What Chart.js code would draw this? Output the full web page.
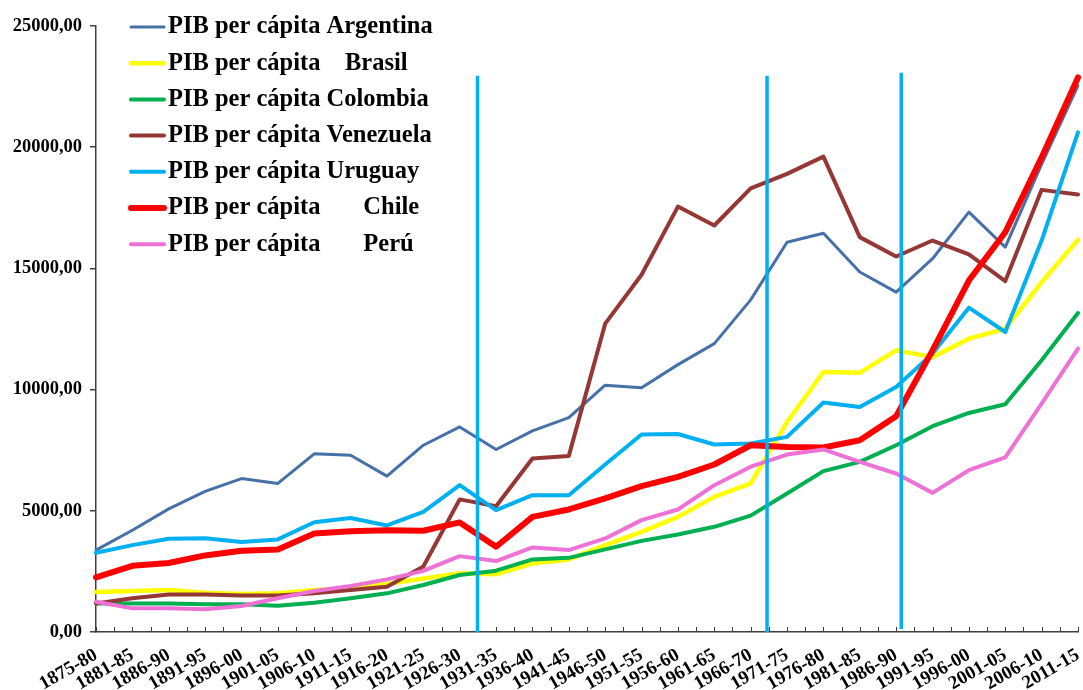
<!DOCTYPE html>
<html lang="es">
<head>
    <meta charset="UTF-8">
    <title>PIB per cápita</title>
    <script src="https://cdn.jsdelivr.net/npm/chart.js"></script>
    <style>
        html, body {
            margin: 0;
            padding: 0;
            background-color: white;
        }
        #contenedor {
            width: 1083px;
            height: 690px;
        }
    </style>
</head>
<body>
    <div id="contenedor">
        <canvas id="grafica"></canvas>
    </div>

    <script>
        const periodos = ['1875-80', '1881-85', '1886-90', '1891-95', '1896-00', '1901-05', '1906-10',
            '1911-15', '1916-20', '1921-25', '1926-30', '1931-35', '1936-40', '1941-45', '1946-50',
            '1951-55', '1956-60', '1961-65', '1966-70', '1971-75', '1976-80', '1981-85', '1986-90',
            '1991-95', '1996-00', '2001-05', '2006-10', '2011-15'];

        const argentina = [3380, 4200, 5080, 5800, 6330, 6130, 7350, 7290, 6430, 7705, 8460, 7530, 8295, 8845,
            10180, 10080, 11030, 11895, 13700, 16080, 16450, 14850, 14020, 15400, 17320, 15880, 19300, 22540];
        const brasil = [1650, 1690, 1730, 1620, 1565, 1595, 1730, 1800, 1980, 2210, 2420, 2380, 2830, 2995,
            3585, 4130, 4750, 5575, 6130, 8665, 10725, 10700, 11620, 11340, 12100, 12510, 14430, 16180];
        const colombia = [1180, 1180, 1180, 1140, 1140, 1085, 1210, 1390, 1595, 1940, 2350, 2530, 2995, 3060,
            3410, 3760, 4025, 4340, 4800, 5715, 6635, 7020, 7705, 8490, 9035, 9395, 11210, 13160];
        const venezuela = [1180, 1390, 1550, 1550, 1510, 1510, 1595, 1730, 1870, 2700, 5470, 5190, 7155, 7265,
            12720, 14740, 17550, 16770, 18300, 18900, 19610, 16290, 15490, 16150, 15575, 14475, 18240, 18050];
        const uruguay = [3270, 3585, 3845, 3870, 3710, 3820, 4530, 4700, 4395, 4960, 6060, 5030, 5645, 5645,
            6910, 8145, 8170, 7735, 7775, 8050, 9465, 9285, 10110, 11485, 13380, 12375, 16150, 20610];
        const chile = [2250, 2730, 2845, 3160, 3350, 3405, 4065, 4160, 4200, 4175, 4520, 3515, 4750, 5055,
            5510, 6015, 6400, 6910, 7705, 7635, 7610, 7910, 8900, 11620, 14500, 16490, 19580, 22880];
        const peru = [1250, 975, 975, 935, 1070, 1390, 1690, 1895, 2170, 2520, 3130, 2925, 3490, 3380,
            3860, 4615, 5055, 6057, 6820, 7320, 7530, 7020, 6540, 5740, 6675, 7200, 9425, 11690];

        const nombres = ['PIB per cápita Argentina', 'PIB per cápita    Brasil', 'PIB per cápita Colombia',
            'PIB per cápita Venezuela', 'PIB per cápita Uruguay', 'PIB per cápita       Chile',
            'PIB per cápita       Perú'];

        // lineas verticales de corte (posicion en periodos, desde / hasta en valor)
        const cortes = [10.49, 18.45, 22.14];
        const cortesDesde = [0, 0, 120];
        const cortesHasta = [22950, 22950, 23075];

        const ticksY = [0, 5000, 10000, 15000, 20000, 25000];

        const series = [argentina, brasil, colombia, venezuela, uruguay, chile, peru];
        const colores = ['#4670A8', '#FFFF00', '#00B050', '#953735', '#00B0F0', '#FF0000', '#EE72D6'];
        const grosores = [3, 4.5, 4, 4, 4, 6, 4];

        const fuente = '"Liberation Serif", "Times New Roman", serif';

        const ctx = document.getElementById('grafica').getContext('2d');

        const lineasCorte = {
            id: 'lineasCorte',
            afterDatasetsDraw(chart) {
                const c = chart.ctx;
                const x = chart.scales.x;
                const y = chart.scales.y;
                c.save();
                // marcas pequeñas del eje x hacia dentro
                c.strokeStyle = '#404040';
                c.lineWidth = 1;
                for (let v = 0; v <= periodos.length - 1; v += 0.5) {
                    const px = Math.round(x.getPixelForValue(v)) + 0.5;
                    c.beginPath();
                    c.moveTo(px, y.bottom);
                    c.lineTo(px, y.bottom - 5);
                    c.stroke();
                }
                c.strokeStyle = '#00B0F0';
                c.lineWidth = 3.5;
                cortes.forEach((v, i) => {
                    const px = x.getPixelForValue(v);
                    c.beginPath();
                    c.moveTo(px, y.getPixelForValue(cortesDesde[i]));
                    c.lineTo(px, y.getPixelForValue(cortesHasta[i]));
                    c.stroke();
                });
                c.restore();
            }
        };

        const leyenda = {
            id: 'leyenda',
            afterDraw(chart) {
                const c = chart.ctx;
                c.save();
                c.font = 'bold 24.5px ' + fuente;
                c.textBaseline = 'middle';
                c.fillStyle = '#000000';
                c.lineCap = 'round';
                chart.data.datasets.forEach((ds, i) => {
                    const py = 27 + i * 36.2;
                    c.strokeStyle = ds.borderColor;
                    c.lineWidth = ds.borderWidth;
                    c.beginPath();
                    c.moveTo(131, py);
                    c.lineTo(164, py);
                    c.stroke();
                    c.fillText(ds.label, 168, py);
                });
                c.restore();
            }
        };

        new Chart(ctx, {
            type: 'line',
            data: {
                labels: periodos,
                datasets: series.map((datos, i) => ({
                    label: nombres[i],
                    data: datos,
                    borderColor: colores[i],
                    backgroundColor: colores[i],
                    borderWidth: grosores[i],
                    pointRadius: 0,
                    tension: 0,
                    fill: false,
                    borderJoinStyle: 'round',
                    borderCapStyle: 'round',
                    order: series.length - i
                }))
            },
            options: {
                responsive: true,
                maintainAspectRatio: false,
                animation: false,
                layout: {
                    padding: { top: 26, right: 5, left: 0, bottom: 0 }
                },
                plugins: {
                    legend: { display: false },
                    tooltip: { enabled: false }
                },
                scales: {
                    x: {
                        afterFit: (scale) => {
                            scale.height = 58;
                            scale.paddingRight = 0;
                            scale.paddingLeft = 0;
                        },
                        grid: { display: false },
                        border: { display: true, color: '#404040', width: 1.5 },
                        ticks: {
                            autoSkip: false,
                            minRotation: 30,
                            maxRotation: 30,
                            padding: 4,
                            color: '#000000',
                            font: { family: fuente, size: 19, weight: 'bold' }
                        }
                    },
                    y: {
                        min: 0,
                        max: 25000,
                        afterFit: (scale) => { scale.width = 96; },
                        afterBuildTicks: (scale) => { scale.ticks = ticksY.map(v => ({ value: v })); },
                        grid: {
                            drawOnChartArea: false,
                            drawTicks: true,
                            tickLength: 6,
                            color: '#404040',
                            lineWidth: 1.5
                        },
                        border: { display: true, color: '#404040', width: 1.5 },
                        ticks: {
                            padding: 8,
                            color: '#000000',
                            font: { family: fuente, size: 18.5, weight: 'bold' },
                            callback: (v) => Number(v).toFixed(2).replace('.', ',')
                        }
                    }
                }
            },
            plugins: [lineasCorte, leyenda]
        });
    </script>
</body>
</html>
